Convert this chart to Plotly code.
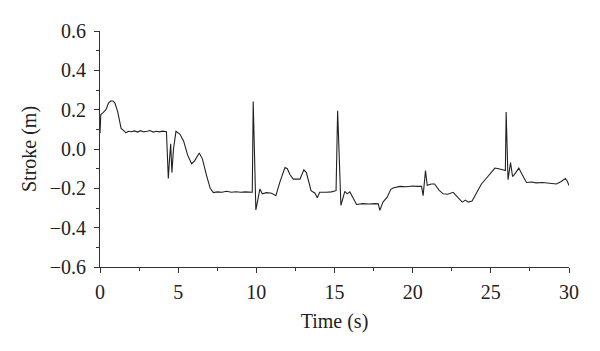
import plotly.graph_objects as go

time_s = [0.0, 0.05, 0.2, 0.38, 0.55, 0.71, 0.85, 0.96, 1.13, 1.25, 1.35, 1.5, 1.66, 1.8, 2.0, 2.2, 2.4,
          2.6, 2.8, 3.0, 3.2, 3.4, 3.6, 3.8, 4.0, 4.25, 4.3, 4.37, 4.45, 4.52, 4.6, 4.7, 4.86, 5.12, 5.35,
          5.6, 5.86, 6.05, 6.35, 6.55, 6.8, 7.05, 7.25, 7.5, 7.8, 8.1, 8.4, 8.7, 9.0, 9.3, 9.74, 9.8, 9.97,
          10.1, 10.23, 10.38, 10.66, 10.98, 11.25, 11.5, 11.83, 11.98, 12.15, 12.36, 12.79, 13.04, 13.2,
          13.5, 13.75, 13.9, 14.05, 14.5, 14.8, 15.1, 15.2, 15.41, 15.66, 15.81, 15.98, 16.2, 16.41, 16.8,
          17.2, 17.6, 17.8, 17.9, 18.1, 18.37, 18.6, 18.75, 19.18, 19.6, 20.0, 20.3, 20.57, 20.67, 20.82,
          20.93, 21.2, 21.4, 21.7, 21.95, 22.25, 22.59, 22.8, 23.17, 23.38, 23.55, 23.8, 24.1, 24.4, 24.7,
          24.94, 25.26, 25.5, 25.8, 25.93, 25.98, 26.1, 26.26, 26.39, 26.5, 26.79, 27.0, 27.28, 27.6, 27.9,
          28.3, 28.7, 29.2, 29.5, 29.77, 29.9, 30.0]
stroke_m = [0.08, 0.175, 0.185, 0.2, 0.235, 0.245, 0.243, 0.232, 0.19, 0.14, 0.105, 0.095, 0.082, 0.09,
            0.088, 0.092, 0.086, 0.093, 0.087, 0.09, 0.094, 0.086, 0.09, 0.087, 0.091, 0.088, 0.0, -0.15,
            -0.05, 0.027, -0.12, 0.0, 0.09, 0.075, 0.04, -0.03, -0.075, -0.06, -0.02, -0.05, -0.13, -0.2,
            -0.222, -0.218, -0.22, -0.215, -0.22, -0.217, -0.22, -0.218, -0.22, 0.242, -0.31, -0.25, -0.203,
            -0.228, -0.222, -0.225, -0.237, -0.17, -0.094, -0.1, -0.13, -0.153, -0.153, -0.106, -0.12,
            -0.212, -0.225, -0.248, -0.22, -0.22, -0.218, -0.212, 0.195, -0.287, -0.215, -0.228, -0.218,
            -0.25, -0.282, -0.278, -0.28, -0.278, -0.279, -0.312, -0.27, -0.245, -0.205, -0.198, -0.19,
            -0.192, -0.188, -0.19, -0.19, -0.237, -0.11, -0.185, -0.178, -0.178, -0.21, -0.228, -0.23,
            -0.22, -0.237, -0.27, -0.26, -0.27, -0.265, -0.22, -0.178, -0.15, -0.128, -0.097, -0.1, -0.107,
            -0.11, 0.188, -0.156, -0.069, -0.14, -0.13, -0.097, -0.13, -0.17, -0.168, -0.172, -0.17, -0.175,
            -0.178, -0.165, -0.15, -0.165, -0.186]

x_ticks = [0, 5, 10, 15, 20, 25, 30]
y_ticks = [-0.6, -0.4, -0.2, 0.0, 0.2, 0.4, 0.6]

font_family = "Liberation Serif"
axis_color = "#333333"

fig = go.Figure()
fig.add_trace(go.Scatter(x=time_s, y=stroke_m, mode="lines",
                         line=dict(color="#222222", width=1.1), showlegend=False))

# the page body has an 8px margin, so the figure is drawn 8px in from the top-left corner
fig.update_layout(
    width=592, height=343,
    margin=dict(l=92, r=31, t=21, b=84),
    paper_bgcolor="white", plot_bgcolor="white",
    font=dict(family=font_family, size=20, color="#222222"),
    xaxis=dict(
        range=[0, 30], tickvals=x_ticks, ticktext=[str(v) for v in x_ticks],
        showgrid=False, zeroline=False, showline=True, linecolor=axis_color, linewidth=1,
        ticks="outside", ticklen=5, tickcolor=axis_color, tickwidth=1,
        tickfont=dict(size=20), ticklabelstandoff=2,
        minor=dict(dtick=2.5, tick0=0, ticks="outside", ticklen=3, tickcolor=axis_color, showgrid=False),
        title=dict(text="Time (s)", font=dict(size=20), standoff=11),
    ),
    yaxis=dict(
        range=[-0.6, 0.6], tickvals=y_ticks, tickformat=".1f",
        showgrid=False, zeroline=False, showline=True, linecolor=axis_color, linewidth=1,
        ticks="outside", ticklen=5, tickcolor=axis_color, tickwidth=1,
        tickfont=dict(size=20), ticklabelstandoff=4,
        minor=dict(dtick=0.1, tick0=0, ticks="outside", ticklen=3, tickcolor=axis_color, showgrid=False),
        title=dict(text="Stroke (m)", font=dict(size=20), standoff=7),
    ),
)

fig.write_html("out.html")
